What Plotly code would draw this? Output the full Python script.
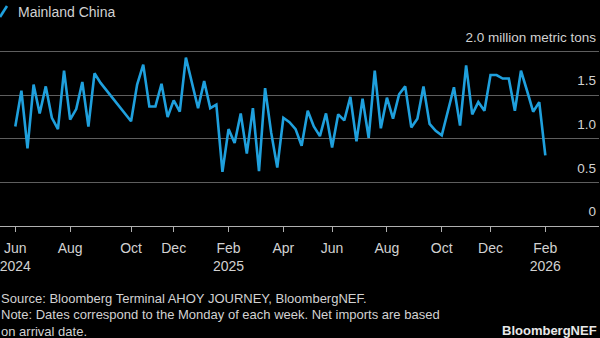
import plotly.graph_objects as go

# Weekly net imports, Mainland China (million metric tons); dates are Mondays
dates = [
    "2024-06-03", "2024-06-10", "2024-06-17", "2024-06-24", "2024-07-01", "2024-07-08",
    "2024-07-15", "2024-07-22", "2024-07-29", "2024-08-05", "2024-08-12", "2024-08-19",
    "2024-08-26", "2024-09-02", "2024-09-09", "2024-10-14", "2024-10-21", "2024-10-28",
    "2024-11-04", "2024-11-11", "2024-11-18", "2024-11-25", "2024-12-02", "2024-12-09",
    "2024-12-16", "2024-12-30", "2025-01-06", "2025-01-13", "2025-01-20", "2025-01-27",
    "2025-02-03", "2025-02-10", "2025-02-17", "2025-02-24", "2025-03-03", "2025-03-10",
    "2025-03-17", "2025-03-24", "2025-03-31", "2025-04-07", "2025-04-14", "2025-04-21",
    "2025-04-28", "2025-05-05", "2025-05-12", "2025-05-19", "2025-05-26", "2025-06-02",
    "2025-06-09", "2025-06-16", "2025-06-23", "2025-06-30", "2025-07-07", "2025-07-14",
    "2025-07-21", "2025-07-28", "2025-08-04", "2025-08-11", "2025-08-18", "2025-08-25",
    "2025-09-01", "2025-09-08", "2025-09-15", "2025-09-22", "2025-09-29", "2025-10-06",
    "2025-10-20", "2025-10-27", "2025-11-03", "2025-11-10", "2025-11-17", "2025-11-24",
    "2025-12-01", "2025-12-08", "2025-12-15", "2025-12-22", "2025-12-29", "2026-01-05",
    "2026-01-12", "2026-01-19", "2026-01-26", "2026-02-02",
]
values = [
    1.14, 1.55, 0.89, 1.62, 1.29, 1.60,
    1.24, 1.11, 1.78, 1.22, 1.34, 1.65,
    1.14, 1.75, 1.64, 1.20, 1.62, 1.85,
    1.37, 1.37, 1.63, 1.25, 1.44, 1.31,
    1.93, 1.35, 1.66, 1.35, 1.39, 0.62,
    1.11, 0.95, 1.29, 0.83, 1.35, 0.63,
    1.58, 1.07, 0.67, 1.24, 1.19, 1.11,
    0.92, 1.32, 1.14, 1.03, 1.29, 0.90,
    1.28, 1.21, 1.48, 0.97, 1.46, 1.01,
    1.78, 1.12, 1.47, 1.23, 1.51, 1.60,
    1.13, 1.23, 1.60, 1.17, 1.09, 1.04,
    1.59, 1.15, 1.84, 1.28, 1.42, 1.32,
    1.73, 1.73, 1.69, 1.69, 1.32, 1.78,
    1.55, 1.31, 1.42, 0.81,
]

series_name = "Mainland China"

x_tickvals = ["2024-06-03", "2024-08-05", "2024-10-14", "2024-12-02", "2025-02-03",
              "2025-04-07", "2025-06-02", "2025-08-04", "2025-10-06", "2025-12-01",
              "2026-02-02"]
x_ticktext = ["Jun<br>2024", "Aug", "Oct", "Dec", "Feb<br>2025", "Apr", "Jun", "Aug",
              "Oct", "Dec", "Feb<br>2026"]

y_tickvals = [0, 0.5, 1.0, 1.5, 2.0]
y_ticktext = ["0", "0.5", "1.0", "1.5", "2.0 million metric tons"]

source_lines = [
    "Source: Bloomberg Terminal AHOY JOURNEY, BloombergNEF.",
    "Note: Dates correspond to the Monday of each week. Net imports are based",
    "on arrival date.",
]
brand_text = "<b>BloombergNEF</b>"

FONT = "Liberation Sans, Arial, sans-serif"
TXT = "#d2d2d2"
LINE = "#1fa0dd"

W, H = 600, 338
ML, MR, MT, MB = 0, 1, 50, 112
PW, PH = W - ML - MR, H - MT - MB


def px_x(px):
    return (px - ML) / PW


def px_y(py):
    return (H - MB - py) / PH


fig = go.Figure()
fig.add_trace(go.Scatter(
    x=dates, y=values, mode="lines", name=series_name,
    line=dict(color=LINE, width=2.6), showlegend=False,
))

fig.update_layout(
    width=W, height=H,
    margin=dict(l=ML, r=MR, t=MT, b=MB),
    paper_bgcolor="#000000", plot_bgcolor="#000000",
    font=dict(family=FONT, size=13, color=TXT),
    xaxis=dict(
        type="date",
        range=["2024-05-16 10:00", "2026-04-04 16:00"],
        tickvals=x_tickvals, ticktext=x_ticktext,
        showgrid=False, zeroline=False,
        showline=True, linecolor="#b0b0b0", linewidth=1,
        ticks="outside", ticklen=5, tickcolor="#b0b0b0", tickwidth=1,
        ticklabelstandoff=4,
        ticklabeloverflow="allow",
        tickfont=dict(size=14, color=TXT),
    ),
    yaxis=dict(
        range=[0, 2.017],
        side="right",
        tickvals=y_tickvals, ticktext=y_ticktext,
        ticklabelposition="inside top",
        ticklabeloverflow="allow",
        ticklabelshift=-5,
        ticks="",
        showgrid=True, gridcolor="#5e5e5e", gridwidth=1,
        zeroline=False, showline=False,
        tickfont=dict(size=13.5, color=TXT),
    ),
    showlegend=False,
)

# legend-like key: blue slash + series name
fig.add_shape(type="line", xref="paper", yref="paper",
              x0=px_x(0), y0=px_y(17), x1=px_x(7), y1=px_y(6),
              line=dict(color=LINE, width=2.6))
fig.add_annotation(
    xref="paper", yref="paper", x=px_x(16), y=px_y(12),
    xanchor="left", yanchor="middle", showarrow=False,
    text=series_name, font=dict(size=14, color=TXT),
)
for i, line_text in enumerate(source_lines):
    fig.add_annotation(
        xref="paper", yref="paper", x=px_x(-1.5), y=px_y(298 + 16.5 * i),
        xanchor="left", yanchor="middle", showarrow=False, align="left",
        text=line_text, font=dict(size=13, color=TXT),
    )
fig.add_annotation(
    xref="paper", yref="paper", x=px_x(599), y=px_y(330),
    xanchor="right", yanchor="middle", showarrow=False,
    text=brand_text, font=dict(size=13, color="#e8e8e8"),
)

fig.write_html("out.html")
